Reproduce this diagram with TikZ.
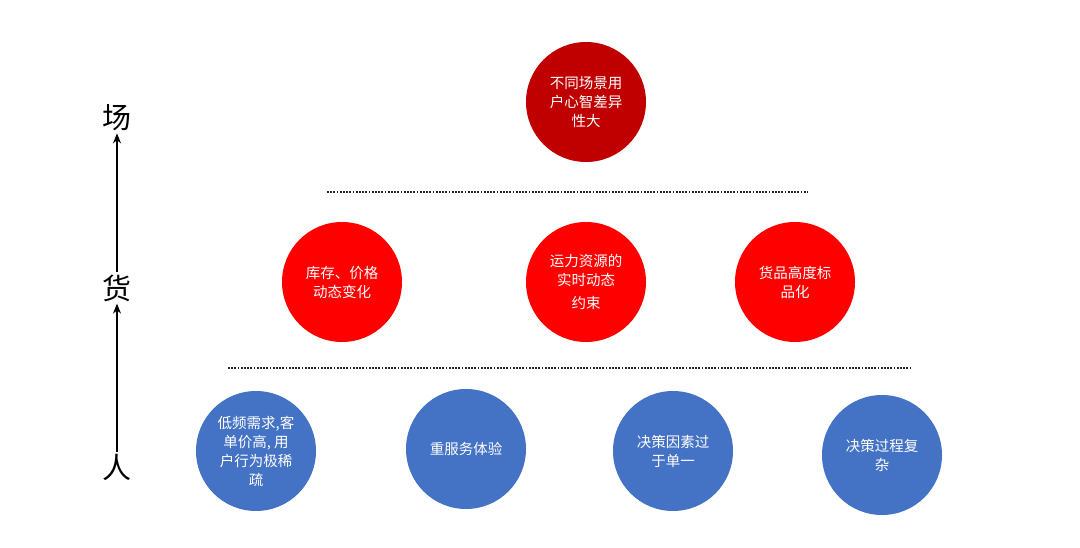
\documentclass[tikz,border=0pt]{standalone}
\usepackage{fontspec}
\newfontfamily\cjk{Noto Sans CJK SC}
\usetikzlibrary{arrows.meta}
\definecolor{scenered}{HTML}{C00000}
\definecolor{goodsred}{HTML}{FF0000}
\definecolor{peopleblue}{HTML}{4472C4}
\definecolor{dkgray}{HTML}{262626}

\begin{document}
\begin{tikzpicture}[
  x=1pt, y=-1pt,
  >={Stealth[length=10pt, width=8pt]},
  bubble/.style={
    circle, fill=#1, minimum size=120pt, inner sep=0pt,
    text=white, align=center, font=\cjk\fontsize{14.5}{19}\selectfont
  },
  sidelabel/.style={font=\cjk\fontsize{29}{32}\selectfont, text=black, inner sep=2pt},
  uparr/.style={->, line width=1.6pt, black},
  divider/.style={line width=1.8pt, dkgray, dash pattern=on 1.8pt off 1.4pt},
]

% Background
\useasboundingbox (0,0) rectangle (1080,548);
\fill[white] (0,0) rectangle (1080,548);

% ---- Side labels ----
\node[sidelabel] (lchang) at (117,118) {场};
\node[sidelabel] (lhuo)   at (117,288) {货};
\node[sidelabel] (lren)   at (117,467) {人};

\draw[uparr] (lren.north) -- (lhuo.south);
\draw[uparr] (lhuo.north) -- (lchang.south);

% ---- Scene ----
\node[bubble=scenered] (s1) at (586,102)
  {不同场景用\\户心智差异\\性大};

% ---- Divider ----
\coordinate (d1a) at (327,192);
\coordinate (d1b) at (808,192);
\draw[divider] (d1a) -- (d1b);

% ---- Goods ----
\node[bubble=goodsred] (g1) at (342,282)
  {库存、价格\\动态变化};
\node[bubble=goodsred] (g2) at (586,282)
  {运力资源的\\实时动态\\[4pt]约束};
\node[bubble=goodsred] (g3) at (795,282)
  {货品高度标\\品化};

% ---- Divider ----
\coordinate (d2a) at (228,368);
\coordinate (d2b) at (910,368);
\draw[divider] (d2a) -- (d2b);

% ---- People ----
\node[bubble=peopleblue] (p1) at (256,451)
  {低频需求,客\\单价高, 用\\户行为极稀\\疏};
\node[bubble=peopleblue] (p2) at (466,449)
  {重服务体验};
\node[bubble=peopleblue] (p3) at (673,451)
  {决策因素过\\于单一};
\node[bubble=peopleblue] (p4) at (882,455)
  {决策过程复\\杂};

\end{tikzpicture}
\end{document}
